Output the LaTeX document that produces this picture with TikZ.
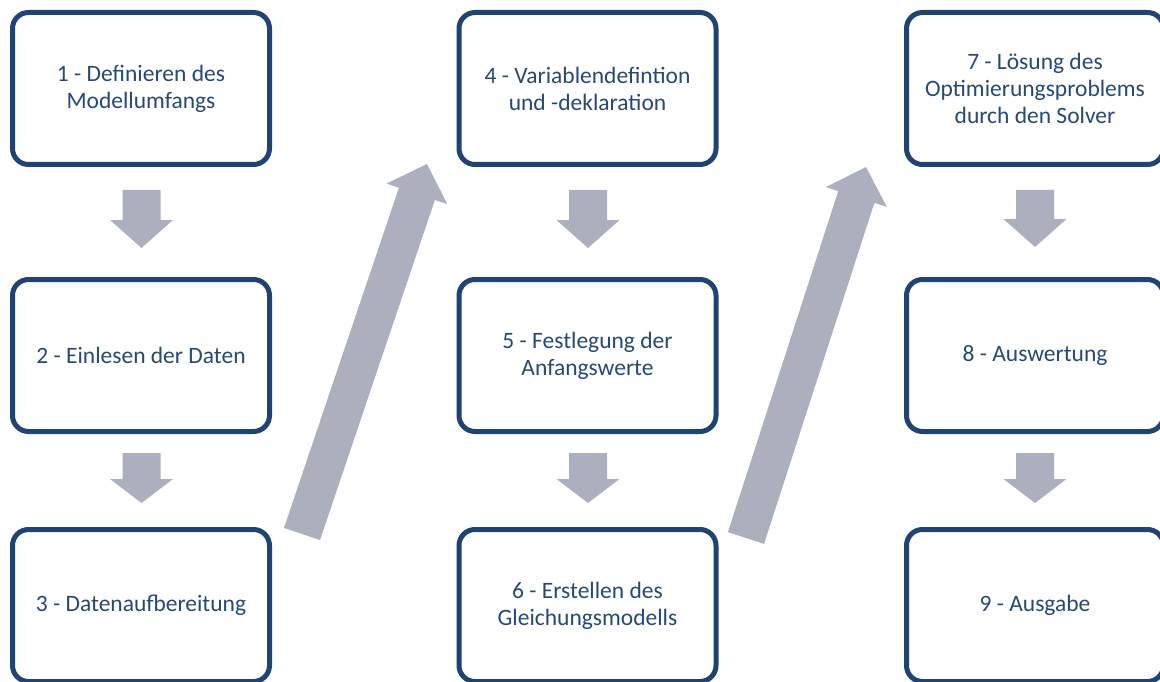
\documentclass[tikz,border=0pt]{standalone}
\usepackage{fontspec}
\setmainfont{Carlito}
\usetikzlibrary{calc}
\definecolor{boxborder}{RGB}{31,67,114}
\definecolor{boxtext}{RGB}{38,73,120}
\definecolor{arrowgray}{RGB}{172,176,190}
\tikzset{
  stepbox/.style={draw=boxborder, line width=5pt, fill=white, rounded corners=16pt,
    minimum width=257pt, minimum height=152pt, inner sep=0pt, align=center,
    text=boxtext, font=\fontsize{23.5pt}{27pt}\selectfont},
  blockfill/.style={fill=arrowgray, draw=none}
}
% vertical block arrow: x center, y shaft top, y head start, y tip
\newcommand{\blockdown}[4]{%
  \fill[blockfill] (#1-19,#2) -- (#1+19,#2) -- (#1+19,#3) -- (#1+31.5,#3) --
    (#1,#4) -- (#1-31.5,#3) -- (#1-19,#3) -- cycle;}
% diagonal block arrow from tail centre to tip (named coordinates)
\newcommand{\blockdiag}[2]{%
  \coordinate (hb) at ($(#2)!31.5pt!(#1)$);
  \fill[blockfill] ($(#1)!19pt!90:(#2)$) -- ($(hb)!19pt!-90:(#1)$) --
    ($(hb)!32pt!-90:(#1)$) -- (#2) -- ($(hb)!32pt!90:(#1)$) --
    ($(hb)!19pt!90:(#1)$) -- ($(#1)!19pt!-90:(#2)$) -- cycle;}
\begin{document}
\begin{tikzpicture}[x=1pt,y=-1pt]
\useasboundingbox (0,0) rectangle (1160,682);
\fill[white] (0,0) rectangle (1160,682);
% boxes
\node[stepbox] (b1) at (141,88.5) {1 - Definieren des\\Modellumfangs};
\node[stepbox] (b2) at (141,355.5) {2 - Einlesen der Daten};
\node[stepbox] (b3) at (141,605.5) {3 - Datenaufbereitung};
\node[stepbox] (b4) at (587.5,88.5) {4 - Variablendefintion\\und -deklaration};
\node[stepbox] (b5) at (587.5,355.5) {5 - Festlegung der\\Anfangswerte};
\node[stepbox] (b6) at (587.5,605.5) {6 - Erstellen des\\Gleichungsmodells};
\node[stepbox] (b7) at (1035,88.5) {7 - Lösung des\\Optimierungsproblems\\durch den Solver};
\node[stepbox] (b8) at (1035,355.5) {8 - Auswertung};
\node[stepbox] (b9) at (1035,605.5) {9 - Ausgabe};
% vertical arrows
\blockdown{141.5}{190}{220}{248}
\blockdown{141.5}{453}{479}{503}
\blockdown{588}{190}{220}{248}
\blockdown{588}{453}{479}{503}
\blockdown{1035}{190}{219}{247}
\blockdown{1035}{453}{479}{503}
% diagonal arrows
\coordinate (t1) at (302,534);
\coordinate (p1) at (427,164);
\coordinate (t2) at (746,538);
\coordinate (p2) at (866,167);
\blockdiag{t1}{p1}
\blockdiag{t2}{p2}
\end{tikzpicture}
\end{document}
